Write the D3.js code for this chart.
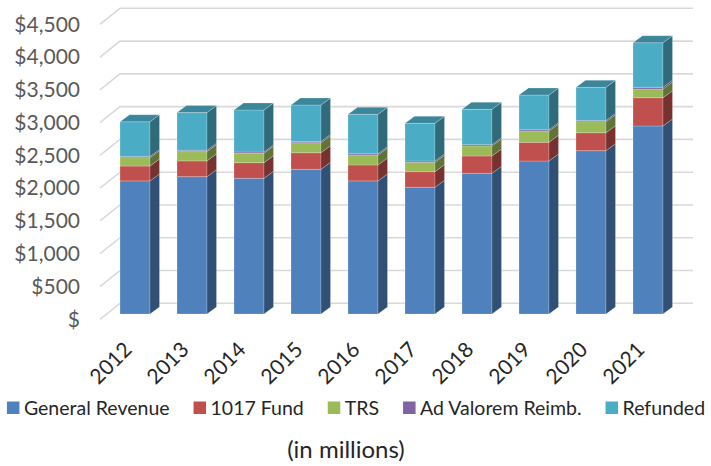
<!DOCTYPE html>
<html>
<head>
<meta charset="utf-8">
<script src="https://cdn.jsdelivr.net/npm/d3@7"></script>
<style>
  body { margin: 0; background: #fff; }
  svg { display: block; font-family: Lato, "Open Sans", sans-serif; }
</style>
</head>
<body>
<div class="chart"></div>
<script>
const years = ["2012", "2013", "2014", "2015", "2016", "2017", "2018", "2019", "2020", "2021"]
const generalRevenue = [2030, 2095, 2070, 2207, 2030, 1933, 2146, 2334, 2491, 2868]
const fund1017 = [227, 240, 238, 253, 243, 238, 264, 285, 274, 431]
const trs = [127, 142, 143, 153, 152, 143, 153, 172, 168, 133]
const adValorem = [20, 20, 20, 20, 20, 20, 20, 20, 20, 25]
const refunded = [529, 575, 641, 555, 601, 575, 539, 529, 505, 681]
const seriesNames = ["General Revenue", "1017 Fund", "TRS", "Ad Valorem Reimb.", "Refunded"]
const seriesColors = ["#4F81BD", "#C0504D", "#9BBB59", "#8064A2", "#4BACC6"]
const yTicks = [0, 500, 1000, 1500, 2000, 2500, 3000, 3500, 4000, 4500]

const width = 711, height = 466
const depth = {dx: 20, dy: 16}      // floor depth, front edge -> back wall
const side = {dx: 9.5, dy: 7}       // bar depth
const barShift = 10.7               // bar front face below back wall line

const svg = d3.select(".chart").append("svg")
    .attr("width", width)
    .attr("height", height)

// back wall scale, front edge is the same shifted by depth
const yBack = d3.scaleLinear().domain([0, 4500]).range([303.3, 8.3])
const yFront = yBack.copy().range(yBack.range().map(d => d + depth.dy))

const x = d3.scaleBand()
    .domain(years)
    .range([93, 690])
    .paddingInner(0.474)
    .paddingOuter(0.474)

// gridlines
const grid = svg.append("g")
    .attr("stroke", "#d9d9d9")
    .attr("stroke-width", 1.6)
    .attr("fill", "none")
grid.selectAll("path")
    .data(yTicks)
    .join("path")
    .attr("d", d => `M${120 - depth.dx},${yBack(d) + depth.dy}L120,${yBack(d)}L693,${yBack(d)}`)

// y axis labels
svg.append("g")
    .attr("transform", "translate(82,0)")
    .call(d3.axisLeft(yFront)
        .tickValues(yTicks)
        .tickSize(0)
        .tickPadding(2)
        .tickFormat(d => d === 0 ? "$" : "$" + d3.format(",")(d)))
    .call(g => g.select(".domain").remove())
    .call(g => g.selectAll("text")
        .attr("fill", "#595959")
        .style("font-family", "Lato")
        .style("font-size", "21px"))

// stacked data
const rows = years.map((y, i) => ({
    year: y,
    values: [generalRevenue[i], fund1017[i], trs[i], adValorem[i], refunded[i]]
}))
const segs = []
rows.forEach(r => {
    let base = 0
    r.values.forEach((v, k) => {
        segs.push({year: r.year, k: k, y0: base, y1: base + v, last: k === r.values.length - 1})
        base += v
    })
})

const shade = (c, f) => {
    const o = d3.rgb(c)
    return d3.rgb(o.r * f, o.g * f, o.b * f).formatHex()
}

const fy = v => yBack(v) + barShift

const bars = svg.append("g")
    .attr("stroke", "rgba(255,255,255,0.35)")
    .attr("stroke-width", 0.6)
    .attr("stroke-linejoin", "round")

const segG = bars.selectAll("g")
    .data(segs)
    .join("g")

segG.append("rect")
    .attr("x", d => x(d.year))
    .attr("y", d => fy(d.y1))
    .attr("width", x.bandwidth())
    .attr("height", d => fy(d.y0) - fy(d.y1))
    .attr("fill", d => seriesColors[d.k])

segG.append("path")
    .attr("fill", d => shade(seriesColors[d.k], 0.62))
    .attr("d", d => {
        const xr = x(d.year) + x.bandwidth()
        return `M${xr},${fy(d.y1)}L${xr + side.dx},${fy(d.y1) - side.dy}` +
            `L${xr + side.dx},${fy(d.y0) - side.dy}L${xr},${fy(d.y0)}Z`
    })

segG.filter(d => d.last).append("path")
    .attr("fill", d => shade(seriesColors[d.k], 0.78))
    .attr("d", d => {
        const xl = x(d.year), xr = xl + x.bandwidth(), yt = fy(d.y1)
        return `M${xl},${yt}L${xl + side.dx},${yt - side.dy}` +
            `L${xr + side.dx},${yt - side.dy}L${xr},${yt}Z`
    })

// x axis labels, rotated
svg.append("g")
    .attr("transform", "translate(-2,351)")
    .call(d3.axisBottom(x).tickSize(0))
    .call(g => g.select(".domain").remove())
    .call(g => g.selectAll("text")
        .attr("x", 0)
        .attr("y", 0)
        .attr("dy", 0)
        .attr("transform", "rotate(-45)")
        .attr("text-anchor", "end")
        .attr("fill", "#262626")
        .style("font-family", "Lato")
        .style("font-size", "21px"))

// legend
const legend = svg.append("g")
    .attr("transform", "translate(0,408)")
const items = legend.selectAll("g")
    .data(seriesNames)
    .join("g")
items.append("rect")
    .attr("y", -6.5)
    .attr("width", 12.5)
    .attr("height", 12.5)
    .attr("fill", (d, i) => seriesColors[i])
items.append("text")
    .attr("x", 17)
    .attr("dy", "0.36em")
    .attr("fill", "#262626")
    .style("font-size", "19.5px")
    .text(d => d)

let lx = 0
items.each(function() {
    const g = d3.select(this)
    g.attr("transform", `translate(${lx},0)`)
    lx += 17 + g.select("text").node().getComputedTextLength() + 24
})
lx -= 24
legend.attr("transform", `translate(${356 - lx / 2},408)`)

svg.append("text")
    .attr("x", 346)
    .attr("y", 458)
    .attr("text-anchor", "middle")
    .attr("fill", "#262626")
    .style("font-size", "24px")
    .text("(in millions)")
</script>
</body>
</html>
